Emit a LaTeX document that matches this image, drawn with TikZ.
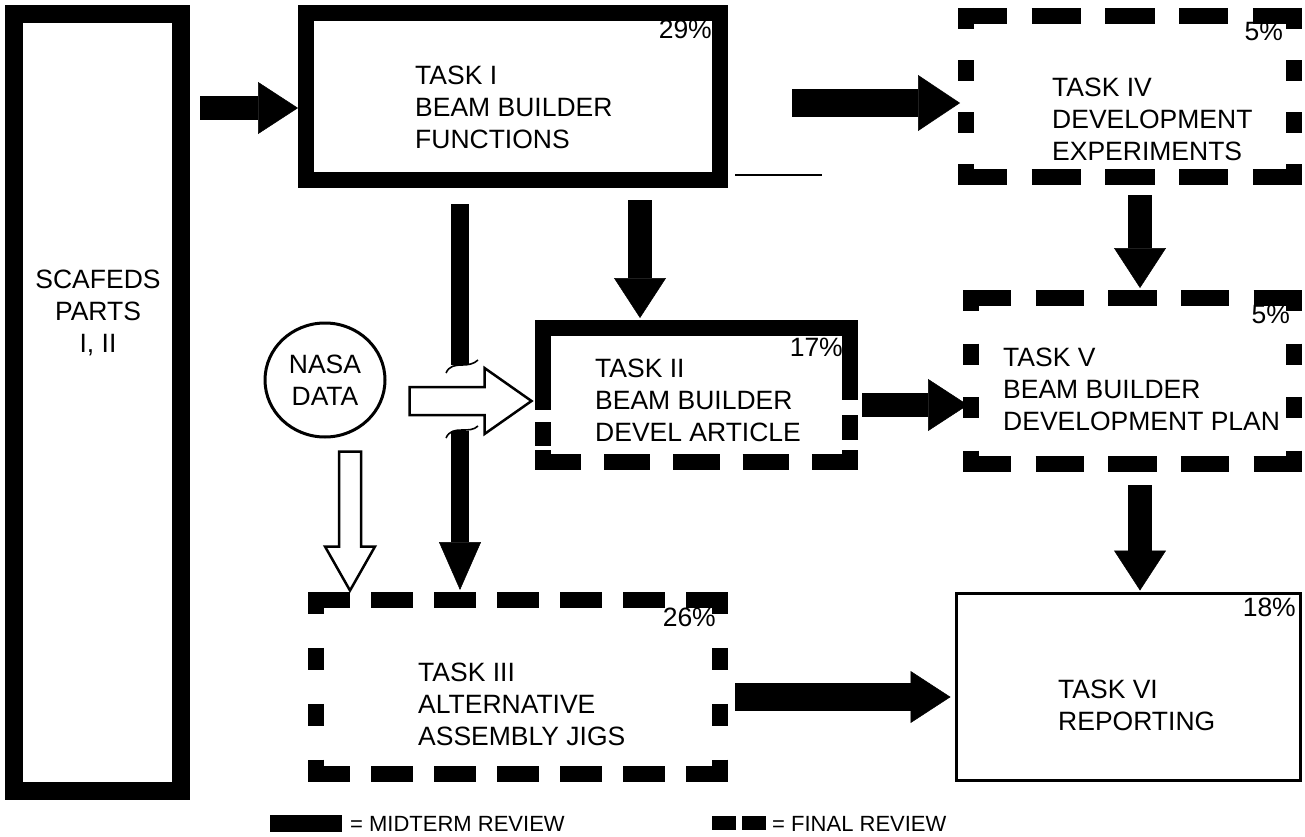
\documentclass[tikz,border=0pt]{standalone}
\usepackage{fontspec}
\setmainfont{Liberation Sans}
\usetikzlibrary{arrows.meta,calc,shapes.geometric}
\def\bw{16}
\newcommand\finalrect[6]{%
  \pgfmathsetmacro\Lh{#3-#1+\bw}%
  \pgfmathsetmacro\dh{\Lh/((#5+2)+0.5*(#5+1))}%
  \pgfmathsetmacro\gh{0.5*\dh}%
  \pgfmathsetmacro\Lv{#4-#2+\bw}%
  \pgfmathsetmacro\dv{\Lv/((#6+2)+1.5*(#6+1))}%
  \pgfmathsetmacro\gv{1.5*\dv}%
  \draw[line width=\bw pt, dash pattern=on \dh pt off \gh pt] ({#1-\bw/2},{#2}) -- ({#3+\bw/2},{#2});
  \draw[line width=\bw pt, dash pattern=on \dh pt off \gh pt] ({#1-\bw/2},{#4}) -- ({#3+\bw/2},{#4});
  \draw[line width=\bw pt, dash pattern=on \dv pt off \gv pt] ({#1},{#2-\bw/2}) -- ({#1},{#4+\bw/2});
  \draw[line width=\bw pt, dash pattern=on \dv pt off \gv pt] ({#3},{#2-\bw/2}) -- ({#3},{#4+\bw/2});
}
\begin{document}
\begin{tikzpicture}[x=1pt,y=-1pt,
  txt/.style={font=\fontsize{26.5}{32}\selectfont, align=left, anchor=west, inner sep=0pt},
  ctxt/.style={font=\fontsize{26.5}{32}\selectfont, align=center, inner sep=0pt},
  pct/.style={font=\fontsize{26.5}{30}\selectfont, anchor=north east, inner sep=0pt},
  legtxt/.style={font=\fontsize{22}{24}\selectfont, anchor=west, inner sep=0pt},
  area/.style={rectangle, inner sep=0pt, outer sep=0pt},
  solidbox/.style={area, draw, line width=16pt},
  thinbox/.style={area, draw, line width=3pt},
  blk/.style={line width=24pt, -{Triangle[length=40pt,width=52pt,line width=0.5pt]}},
  blkthin/.style={line width=18pt, -{Triangle[length=48pt,width=42pt,line width=0.5pt]}},
  hollow/.style={draw, line width=2.5pt, fill=white, line join=miter},
  curl/.style={line width=1.6pt},
]
\useasboundingbox (0,0) rectangle (1305,837);
\fill[white] (0,0) rectangle (1305,837);

% SCAFEDS
\node[area, draw, line width=18pt, minimum width=167pt, minimum height=777pt] (scaf) at (97.5,402.5) {};
\node[ctxt] (scaftxt) at (98,313) {SCAFEDS\\PARTS\\I, II};

% Task I
\node[solidbox, minimum width=414pt, minimum height=167pt] (t1) at (513,96.5) {};
\node[txt] (t1txt) at (415,107) {TASK I\\BEAM BUILDER\\FUNCTIONS};
\node[pct] (t1p) at (712,20) {29\%};

% Task IV
\node[area, minimum width=328pt, minimum height=161pt] (t4) at (1130,96.5) {};
\finalrect{966}{16}{1294}{177}{3}{2}
\node[txt] (t4txt) at (1052,119) {TASK IV\\DEVELOPMENT\\EXPERIMENTS};
\node[pct] (t4p) at (1283,22) {5\%};

% Task II (mixed border)
\node[area, minimum width=307pt, minimum height=134pt] (t2) at (696.5,395) {};
\draw[line width=16pt] (535,328) -- (858,328);
\draw[line width=16pt] (543,320) -- (543,410);
\draw[line width=16pt] (850,320) -- (850,400);
\draw[line width=16pt] (543,422) -- (543,446);
\draw[line width=16pt] (850,415) -- (850,440);
\draw[line width=16pt, dash pattern=on 46.14pt off 23.07pt] (535,462) -- (858,462);
\draw[line width=16pt] (543,450) -- (543,470);
\draw[line width=16pt] (850,450) -- (850,470);
\node[txt] (t2txt) at (595,400) {TASK II\\BEAM BUILDER\\DEVEL ARTICLE};
\node[pct] (t2p) at (843,338) {17\%};

% Task V
\node[area, minimum width=323pt, minimum height=166pt] (t5) at (1132.5,381) {};
\finalrect{971}{298}{1294}{464}{3}{2}
\node[txt] (t5txt) at (1003,389) {TASK V\\BEAM BUILDER\\DEVELOPMENT PLAN};
\node[pct] (t5p) at (1290,305) {5\%};

% Task III
\node[area, minimum width=404pt, minimum height=174pt] (t3) at (518,687) {};
\finalrect{316}{600}{720}{774}{5}{2}
\node[txt] (t3txt) at (418,704) {TASK III\\ALTERNATIVE\\ASSEMBLY JIGS};
\node[pct] (t3p) at (716,608) {26\%};

% Task VI
\node[thinbox, minimum width=344pt, minimum height=187pt] (t6) at (1128.5,687) {};
\node[txt] (t6txt) at (1058,705) {TASK VI\\REPORTING};
\node[pct] (t6p) at (1296,598) {18\%};

% NASA DATA
\node[ellipse, draw, line width=3pt, minimum width=120pt, minimum height=114pt, inner sep=0pt, ctxt] (nasa) at (325,380) {NASA\\DATA};

% black block arrows
\draw[blk] ($(scaf.north east)+(19,94)$) -- ($(t1.west)+(-8,11.5)$);
\draw[blk, line width=28pt, -{Triangle[length=42pt,width=56pt,line width=0.5pt]}] ($(t1.east)+(72,6.5)$) -- ($(t4.west)+(-6,6.5)$);
\draw[blk] ($(t1.south)+(127,20)$) -- ($(t2.north)+(-56.5,-10)$);
\draw[blk] ($(t4.south)+(10,18)$) -- ($(t5.north)+(7.5,-10)$);
\draw[blk] ($(t2.east)+(12,10)$) -- ($(t5.west)+(-3,24)$);
\draw[blk] ($(t5.south)+(7.5,21)$) -- ($(t6.north)+(11.5,-3)$);
\draw[blk, line width=28pt] ($(t3.east)+(15,10)$) -- ($(t6.west)+(-6,10)$);

% long arrow Task I -> Task III with a break
\coordinate (brk1) at (460,365);
\coordinate (brk2) at (460,431);
\draw[line width=18pt] ($(t1.south)+(-53,24)$) -- (brk1);
\draw[blkthin] (brk2) -- ($(t3.north)+(-58,-10)$);
\draw[curl] (446,373) .. controls (449,366) and (455,365) .. (462,365) .. controls (468,365) and (474,364) .. (478,360);
\draw[curl] (446,438) .. controls (449,431) and (455,430) .. (462,430) .. controls (468,430) and (474,430) .. (478,426);

% hollow arrows from NASA DATA
\begin{scope}[shift={(nasa.east)}]
  \path[hollow] (23,7) -- (98,7) -- (98,-12) -- (145,21) -- (98,54) -- (98,35) -- (23,35) -- cycle;
\end{scope}
\begin{scope}[shift={(nasa.south)}]
  \path[hollow] (14,13) -- (36,13) -- (36,108) -- (50,108) -- (25,152) -- (0,108) -- (14,108) -- cycle;
\end{scope}

% stray thin line
\draw[line width=1.5pt] (735,175) -- (822,175);

% legend
\fill (270,815) rectangle (342,832);
\node[legtxt] (leg1) at (350,824) {= MIDTERM REVIEW};
\fill (712,816) rectangle (736,830);
\fill (742,816) rectangle (766,830);
\node[legtxt] (leg2) at (772,824) {= FINAL REVIEW};
\end{tikzpicture}
\end{document}
